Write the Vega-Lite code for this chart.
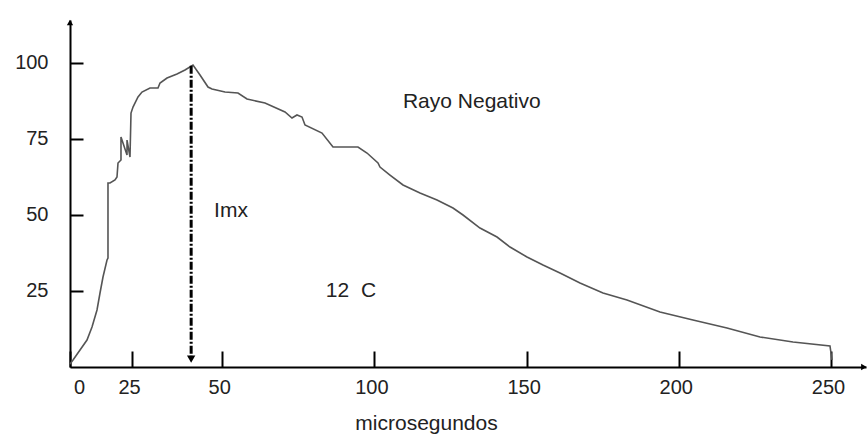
{
  "$schema": "https://vega.github.io/schema/vega-lite/v6.json",
  "width": 796,
  "height": 347,
  "autosize": {"type": "none"},
  "padding": {"left": 70, "top": 20, "right": 1, "bottom": 69},
  "background": "white",
  "config": {
    "view": {"stroke": null},
    "font": "Liberation Sans",
    "axis": {"grid": false, "labelFont": "Liberation Sans", "titleFont": "Liberation Sans"}
  },
  "datasets": {
    "curve": [
      {"i": 0, "t": 0, "v": 1.0},
      {"i": 1, "t": 0.99, "v": 2.3},
      {"i": 2, "t": 3.29, "v": 5.58},
      {"i": 3, "t": 5.58, "v": 8.87},
      {"i": 4, "t": 7.23, "v": 13.14},
      {"i": 5, "t": 8.87, "v": 18.73},
      {"i": 6, "t": 9.86, "v": 24.31},
      {"i": 7, "t": 10.84, "v": 29.57},
      {"i": 8, "t": 12.16, "v": 35.15},
      {"i": 9, "t": 12.48, "v": 35.81},
      {"i": 10, "t": 12.48, "v": 60.45},
      {"i": 11, "t": 13.14, "v": 60.45},
      {"i": 12, "t": 14.78, "v": 61.43},
      {"i": 13, "t": 15.44, "v": 62.42},
      {"i": 14, "t": 15.77, "v": 67.02},
      {"i": 15, "t": 16.75, "v": 68.0},
      {"i": 16, "t": 16.75, "v": 75.56},
      {"i": 17, "t": 18.73, "v": 69.65},
      {"i": 18, "t": 18.73, "v": 74.57},
      {"i": 19, "t": 19.71, "v": 68.99},
      {"i": 20, "t": 20.04, "v": 83.44},
      {"i": 21, "t": 20.7, "v": 85.41},
      {"i": 22, "t": 22.34, "v": 88.7},
      {"i": 23, "t": 23.65, "v": 90.34},
      {"i": 24, "t": 26.28, "v": 91.66},
      {"i": 25, "t": 28.91, "v": 91.66},
      {"i": 26, "t": 29.57, "v": 93.3},
      {"i": 27, "t": 31.87, "v": 94.94},
      {"i": 28, "t": 35.15, "v": 96.25},
      {"i": 29, "t": 37.78, "v": 97.57},
      {"i": 30, "t": 40.41, "v": 99.21},
      {"i": 31, "t": 42.71, "v": 95.93},
      {"i": 32, "t": 45.34, "v": 91.98},
      {"i": 33, "t": 46.65, "v": 91.33},
      {"i": 34, "t": 50.92, "v": 90.34},
      {"i": 35, "t": 55.19, "v": 90.01},
      {"i": 36, "t": 58.15, "v": 88.04},
      {"i": 37, "t": 64.06, "v": 86.73},
      {"i": 38, "t": 70.63, "v": 83.77},
      {"i": 39, "t": 72.93, "v": 81.8},
      {"i": 40, "t": 74.57, "v": 82.79},
      {"i": 41, "t": 76.22, "v": 82.13},
      {"i": 42, "t": 77.2, "v": 79.5},
      {"i": 43, "t": 82.79, "v": 76.87},
      {"i": 44, "t": 86.4, "v": 72.27},
      {"i": 45, "t": 94.61, "v": 72.27},
      {"i": 46, "t": 97.57, "v": 70.3},
      {"i": 47, "t": 101.18, "v": 67.02},
      {"i": 48, "t": 101.84, "v": 65.7},
      {"i": 49, "t": 105.12, "v": 63.07},
      {"i": 50, "t": 109.4, "v": 59.79},
      {"i": 51, "t": 114.98, "v": 57.16},
      {"i": 52, "t": 120.57, "v": 54.86},
      {"i": 53, "t": 125.82, "v": 52.23},
      {"i": 54, "t": 129.11, "v": 49.93},
      {"i": 55, "t": 134.69, "v": 45.66},
      {"i": 56, "t": 140.28, "v": 42.71},
      {"i": 57, "t": 144.55, "v": 39.42},
      {"i": 58, "t": 150.13, "v": 36.14},
      {"i": 59, "t": 155.39, "v": 33.51},
      {"i": 60, "t": 160.97, "v": 30.88},
      {"i": 61, "t": 167.54, "v": 27.6},
      {"i": 62, "t": 175.1, "v": 24.31},
      {"i": 63, "t": 182.98, "v": 22.01},
      {"i": 64, "t": 193.82, "v": 18.07},
      {"i": 65, "t": 204.66, "v": 15.44},
      {"i": 66, "t": 215.83, "v": 12.81},
      {"i": 67, "t": 226.68, "v": 9.86},
      {"i": 68, "t": 237.52, "v": 8.21},
      {"i": 69, "t": 249.67, "v": 6.9},
      {"i": 70, "t": 250.33, "v": 2.3}
    ],
    "imx": [{"t": 39.8, "top": 99.0, "bottom": 3.5}],
    "imxhead": [{"t": 39.8, "v": 2.6}],
    "axisheads": [
      {"t": 0, "v": 113.2, "shape": "triangle-up"},
      {"t": 260.8, "v": 0, "shape": "triangle-right"}
    ],
    "notes": [
      {"t": 132, "v": 87, "label": "Rayo Negativo"},
      {"t": 52.9, "v": 51.2, "label": "Imx"},
      {"t": 92.3, "v": 25, "label": "12\u00a0\u00a0C"}
    ]
  },
  "layer": [
    {
      "data": {"name": "curve"},
      "mark": {"type": "line", "color": "#555555", "strokeWidth": 1.6, "clip": false},
      "encoding": {
        "x": {
          "field": "t",
          "type": "quantitative",
          "scale": {"domain": [0, 261.5], "nice": false, "zero": false},
          "axis": {
            "values": [0, 20.4, 50, 100, 150, 200, 250],
            "labelExpr": "datum.value < 1 ? '0' : datum.value < 30 ? '25' : format(datum.value, 'd')",
            "domainColor": "#000000",
            "domainWidth": 2,
            "tickColor": "#000000",
            "tickWidth": 2,
            "tickSize": -16,
            "labelPadding": 26,
            "labelFontSize": 20,
            "labelColor": "#222222",
            "labelOffset": {"condition": {"test": "datum.value < 1", "value": 9}, "value": -3},
            "labelFlush": false,
            "labelOverlap": false,
            "title": "microsegundos",
            "titleFontSize": 21,
            "titleFontWeight": "normal",
            "titleColor": "#222222",
            "titleX": 356,
            "titleY": 62,
            "titleAlign": "center",
            "titleBaseline": "alphabetic"
          }
        },
        "y": {
          "field": "v",
          "type": "quantitative",
          "scale": {"domain": [0, 114], "nice": false},
          "axis": {
            "values": [25, 50, 75, 100],
            "domainColor": "#000000",
            "domainWidth": 2,
            "tickColor": "#000000",
            "tickWidth": 2,
            "tickSize": -13,
            "labelPadding": 35,
            "labelFontSize": 20,
            "labelColor": "#222222",
            "labelFlush": false,
            "title": null
          }
        },
        "order": {"field": "i", "type": "quantitative"}
      }
    },
    {
      "data": {"name": "imx"},
      "mark": {"type": "rule", "color": "#000000", "strokeWidth": 3, "strokeDash": [8, 2, 2, 2]},
      "encoding": {
        "x": {"field": "t", "type": "quantitative"},
        "y": {"field": "top", "type": "quantitative"},
        "y2": {"field": "bottom"}
      }
    },
    {
      "data": {"name": "imxhead"},
      "mark": {"type": "point", "shape": "triangle-down", "filled": true, "color": "#000000", "size": 70, "opacity": 1},
      "encoding": {
        "x": {"field": "t", "type": "quantitative"},
        "y": {"field": "v", "type": "quantitative"}
      }
    },
    {
      "data": {"name": "axisheads"},
      "mark": {"type": "point", "filled": true, "color": "#000000", "size": 40, "opacity": 1, "clip": false},
      "encoding": {
        "x": {"field": "t", "type": "quantitative"},
        "y": {"field": "v", "type": "quantitative"},
        "shape": {"field": "shape", "type": "nominal", "scale": null, "legend": null}
      }
    },
    {
      "data": {"name": "notes"},
      "mark": {"type": "text", "fontSize": 21, "color": "#222222", "baseline": "middle", "align": "center", "font": "Liberation Sans"},
      "encoding": {
        "x": {"field": "t", "type": "quantitative"},
        "y": {"field": "v", "type": "quantitative"},
        "text": {"field": "label"}
      }
    }
  ]
}
